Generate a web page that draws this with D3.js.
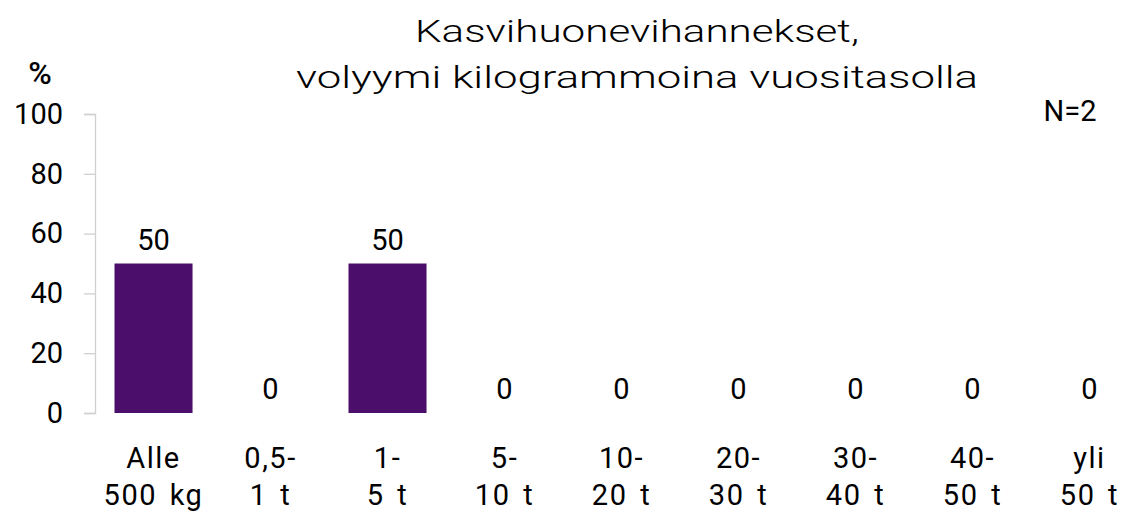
<!DOCTYPE html>
<html><head><meta charset="utf-8">
<script src="https://cdn.jsdelivr.net/npm/d3@7"></script>
<style>body{margin:0;background:#fff}svg{display:block}text{font-family:Roboto,sans-serif;fill:#000}</style>
</head><body>
<svg id="c" width="1125" height="515"></svg>
<script>
const categories = [["Alle","500 kg"],["0,5-","1 t"],["1-","5 t"],["5-","10 t"],["10-","20 t"],["20-","30 t"],["30-","40 t"],["40-","50 t"],["yli","50 t"]];
const values = [50,0,50,0,0,0,0,0,0];
const yTicks = [0,20,40,60,80,100];
const titleLines = ["Kasvihuonevihannekset,","volyymi kilogrammoina vuositasolla"];
const titleWidths = [444,682];
const nLabel = "N=2";
const barColor = "#4b0f6b";

const svg = d3.select("#c");
const x = d3.scaleBand().domain(d3.range(categories.length)).range([95,1148]).paddingInner(0.333).paddingOuter(0.1667);
const y = d3.scaleLinear().domain([0,100]).range([413,114]);

svg.selectAll(".title").data(titleLines).enter().append("text")
  .attr("x",637).attr("y",(d,i)=>42+i*46).attr("text-anchor","middle")
  .attr("textLength",(d,i)=>titleWidths[i]).attr("lengthAdjust","spacingAndGlyphs")
  .style("font-size","31px").style("font-weight","300").text(d=>d);

svg.append("text").attr("x",40).attr("y",84).attr("text-anchor","middle").style("font-size","32px").style("font-weight","500").text("%");
svg.append("text").attr("x",1070).attr("y",121).attr("text-anchor","middle").style("font-size","29px").text(nLabel);

const ya = svg.append("g").attr("transform","translate(95,0)")
  .call(d3.axisLeft(y).tickValues(yTicks).tickSize(11).tickPadding(21));
ya.selectAll("line,path").attr("stroke","#d0d0d0").attr("stroke-width",1.3);
ya.selectAll("text").style("font-size","29px").style("font-family","Roboto").attr("fill","#000");

svg.selectAll(".bar").data(values).enter().append("rect")
  .attr("x",(d,i)=>x(i)).attr("width",x.bandwidth())
  .attr("y",d=>y(d)).attr("height",d=>y(0)-y(d)).attr("fill",barColor);

svg.selectAll(".val").data(values).enter().append("text")
  .attr("x",(d,i)=>x(i)+x.bandwidth()/2).attr("y",d=>y(d)-14)
  .attr("text-anchor","middle").style("font-size","29px").text(d=>d);

const cg = svg.selectAll(".cat").data(categories).enter().append("text")
  .attr("text-anchor","middle").style("font-size","29px").style("letter-spacing","1.5px").style("word-spacing","4px");
cg.each(function(d,i){
  const t = d3.select(this);
  d.forEach((line,j)=>t.append("tspan").attr("x",x(i)+x.bandwidth()/2).attr("y",468+j*37).text(line));
});
</script>
</body></html>
